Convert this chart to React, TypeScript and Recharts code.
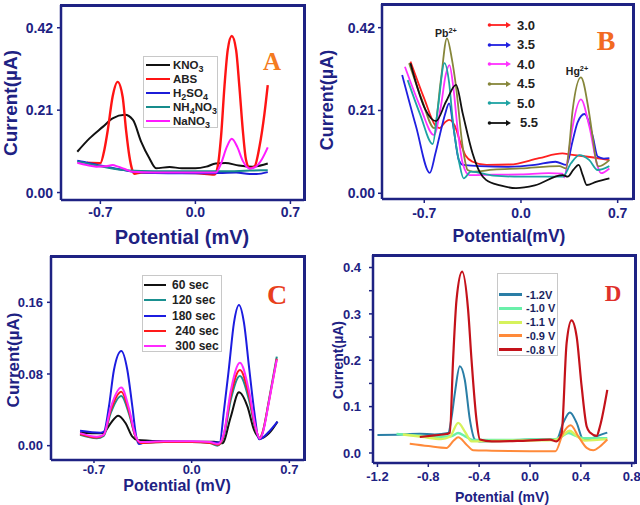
import React from 'react';
import { LineChart, Line, XAxis, YAxis } from 'recharts';

// ---- panel A : supporting electrolyte ----
const aKNO3 = [[-0.87, 0.104], [-0.78, 0.138], [-0.68, 0.168], [-0.61, 0.189], [-0.52, 0.198], [-0.46, 0.185], [-0.40, 0.13], [-0.34, 0.088], [-0.29, 0.062], [-0.19, 0.065], [-0.10, 0.062], [0.0, 0.062], [0.08, 0.066], [0.15, 0.074], [0.22, 0.075], [0.32, 0.069], [0.42, 0.066], [0.533, 0.074]];
const aABS = [[-0.80, 0.076], [-0.70, 0.075], [-0.67, 0.11], [-0.645, 0.16], [-0.61, 0.244], [-0.573, 0.282], [-0.536, 0.244], [-0.511, 0.16], [-0.486, 0.092], [-0.467, 0.06], [-0.45, 0.048], [-0.40, 0.051], [-0.2, 0.051], [0.0, 0.050], [0.14, 0.046], [0.164, 0.066], [0.189, 0.143], [0.214, 0.27], [0.238, 0.363], [0.268, 0.399], [0.30, 0.363], [0.324, 0.27], [0.349, 0.16], [0.373, 0.083], [0.40, 0.062], [0.435, 0.066], [0.472, 0.117], [0.509, 0.202], [0.533, 0.274]];
const aH2SO4 = [[-0.87, 0.081], [-0.78, 0.075], [-0.70, 0.069], [-0.60, 0.062], [-0.46, 0.053], [-0.3, 0.050], [-0.1, 0.049], [0.1, 0.049], [0.2, 0.050], [0.3, 0.051], [0.4, 0.047], [0.45, 0.047], [0.533, 0.052]];
const aNH4NO3 = [[-0.87, 0.079], [-0.78, 0.073], [-0.70, 0.067], [-0.55, 0.058], [-0.4, 0.055], [-0.2, 0.054], [0.0, 0.054], [0.2, 0.054], [0.4, 0.056], [0.533, 0.057]];
const aNaNO3 = [[-0.87, 0.076], [-0.80, 0.070], [-0.73, 0.066], [-0.66, 0.067], [-0.61, 0.070], [-0.57, 0.066], [-0.52, 0.060], [-0.46, 0.053], [-0.3, 0.051], [0.0, 0.051], [0.15, 0.051], [0.19, 0.075], [0.23, 0.115], [0.268, 0.137], [0.31, 0.115], [0.35, 0.08], [0.40, 0.061], [0.44, 0.065], [0.49, 0.085], [0.533, 0.115]];

// ---- panel B : pH ----
const b30 = [[-0.80, 0.334], [-0.70, 0.24], [-0.62, 0.172], [-0.59, 0.165], [-0.55, 0.18], [-0.52, 0.186], [-0.48, 0.172], [-0.44, 0.13], [-0.40, 0.095], [-0.35, 0.080], [-0.25, 0.072], [-0.08, 0.073], [0.13, 0.089], [0.30, 0.101], [0.36, 0.098], [0.50, 0.092], [0.64, 0.084]];
const b35 = [[-0.86, 0.300], [-0.76, 0.17], [-0.66, 0.052], [-0.62, 0.10], [-0.59, 0.144], [-0.55, 0.20], [-0.52, 0.228], [-0.49, 0.17], [-0.45, 0.084], [-0.42, 0.072], [-0.3, 0.069], [-0.1, 0.067], [0.10, 0.072], [0.25, 0.080], [0.33, 0.072], [0.37, 0.127], [0.41, 0.18], [0.46, 0.201], [0.52, 0.144], [0.555, 0.093], [0.60, 0.088], [0.64, 0.089]];
const b40 = [[-0.84, 0.321], [-0.73, 0.22], [-0.63, 0.148], [-0.58, 0.22], [-0.545, 0.30], [-0.518, 0.325], [-0.49, 0.27], [-0.458, 0.161], [-0.422, 0.076], [-0.374, 0.046], [-0.2, 0.047], [0.0, 0.048], [0.2, 0.051], [0.30, 0.050], [0.314, 0.040], [0.34, 0.09], [0.374, 0.169], [0.434, 0.238], [0.495, 0.169], [0.555, 0.068], [0.579, 0.051], [0.64, 0.063]];
const b45 = [[-0.81, 0.330], [-0.72, 0.24], [-0.627, 0.165], [-0.58, 0.287], [-0.536, 0.393], [-0.50, 0.34], [-0.47, 0.27], [-0.422, 0.118], [-0.386, 0.059], [-0.35, 0.055], [-0.2, 0.060], [0.0, 0.063], [0.278, 0.069], [0.326, 0.063], [0.35, 0.12], [0.374, 0.211], [0.434, 0.294], [0.49, 0.211], [0.52, 0.14], [0.543, 0.084], [0.562, 0.068], [0.64, 0.084]];
const b50 = [[-0.82, 0.287], [-0.73, 0.20], [-0.639, 0.125], [-0.60, 0.22], [-0.554, 0.330], [-0.52, 0.28], [-0.494, 0.186], [-0.446, 0.076], [-0.415, 0.038], [-0.362, 0.055], [-0.2, 0.045], [0.0, 0.042], [0.302, 0.042], [0.362, 0.076], [0.423, 0.097], [0.495, 0.084], [0.555, 0.059], [0.64, 0.069]];
const b55 = [[-0.80, 0.330], [-0.69, 0.211], [-0.615, 0.183], [-0.543, 0.232], [-0.47, 0.275], [-0.422, 0.203], [-0.35, 0.101], [-0.30, 0.055], [-0.253, 0.034], [-0.15, 0.02], [-0.036, 0.013], [0.10, 0.020], [0.302, 0.046], [0.338, 0.042], [0.38, 0.06], [0.418, 0.072], [0.447, 0.046], [0.476, 0.021], [0.543, 0.029], [0.64, 0.038]];

// ---- panel C : deposition time ----
const c60 = [[-0.80, 0.0145], [-0.653, 0.0138], [-0.629, 0.0145], [-0.581, 0.025], [-0.526, 0.0335], [-0.473, 0.025], [-0.425, 0.010], [-0.39, 0.0064], [-0.2, 0.005], [0.0, 0.0045], [0.16, 0.0045], [0.22, 0.0027], [0.28, 0.032], [0.339, 0.0596], [0.40, 0.0435], [0.447, 0.0175], [0.495, 0.0083], [0.554, 0.0138], [0.615, 0.0268]];
const c120 = [[-0.80, 0.012], [-0.68, 0.0083], [-0.63, 0.011], [-0.581, 0.036], [-0.504, 0.0555], [-0.45, 0.036], [-0.402, 0.010], [-0.366, 0.003], [-0.2, 0.004], [0.0, 0.004], [0.13, 0.003], [0.184, 0.000], [0.23, 0.01], [0.28, 0.051], [0.346, 0.0778], [0.411, 0.051], [0.459, 0.0175], [0.488, 0.0083], [0.507, 0.014], [0.554, 0.051], [0.61, 0.0993]];
const c180 = [[-0.80, 0.0167], [-0.653, 0.0145], [-0.629, 0.0156], [-0.593, 0.0435], [-0.557, 0.0845], [-0.504, 0.1057], [-0.461, 0.0845], [-0.425, 0.0435], [-0.397, 0.010], [-0.378, 0.0019], [-0.318, 0.0045], [0.0, 0.0045], [0.20, 0.0035], [0.232, 0.040], [0.268, 0.088], [0.303, 0.137], [0.339, 0.157], [0.375, 0.137], [0.411, 0.088], [0.447, 0.040], [0.483, 0.0071], [0.554, 0.0156], [0.615, 0.0268]];
const c240 = [[-0.80, 0.013], [-0.68, 0.009], [-0.63, 0.012], [-0.581, 0.039], [-0.504, 0.0603], [-0.45, 0.039], [-0.402, 0.010], [-0.366, 0.003], [-0.2, 0.004], [0.0, 0.004], [0.13, 0.003], [0.19, 0.001], [0.23, 0.012], [0.28, 0.056], [0.346, 0.0845], [0.411, 0.056], [0.459, 0.019], [0.488, 0.008], [0.507, 0.014], [0.554, 0.050], [0.61, 0.097]];
const c300 = [[-0.80, 0.014], [-0.68, 0.010], [-0.63, 0.012], [-0.581, 0.042], [-0.504, 0.065], [-0.45, 0.042], [-0.402, 0.011], [-0.366, 0.004], [-0.2, 0.005], [0.0, 0.005], [0.13, 0.004], [0.19, 0.002], [0.23, 0.013], [0.28, 0.061], [0.346, 0.0926], [0.411, 0.061], [0.459, 0.020], [0.488, 0.008], [0.507, 0.013], [0.554, 0.049], [0.61, 0.096]];

// ---- panel D : deposition potential ----
const d12 = [[-1.2, 0.039], [-1.0, 0.040], [-0.867, 0.0416], [-0.75, 0.040], [-0.644, 0.043], [-0.615, 0.08], [-0.591, 0.129], [-0.552, 0.187], [-0.513, 0.158], [-0.473, 0.072], [-0.434, 0.029], [-0.40, 0.025], [-0.2, 0.026], [0.0, 0.029], [0.209, 0.029], [0.261, 0.065], [0.314, 0.0875], [0.367, 0.065], [0.419, 0.029], [0.47, 0.03], [0.524, 0.036], [0.608, 0.044]];
const d10 = [[-1.05, 0.041], [-0.9, 0.038], [-0.7, 0.035], [-0.62, 0.036], [-0.565, 0.043], [-0.51, 0.036], [-0.45, 0.028], [-0.2, 0.028], [0.0, 0.029], [0.2, 0.030], [0.25, 0.036], [0.30, 0.043], [0.36, 0.037], [0.42, 0.032], [0.608, 0.032]];
const d11 = [[-1.0, 0.040], [-0.85, 0.035], [-0.7, 0.030], [-0.63, 0.035], [-0.565, 0.065], [-0.51, 0.045], [-0.46, 0.025], [-0.3, 0.026], [0.0, 0.027], [0.2, 0.028], [0.26, 0.038], [0.31, 0.048], [0.37, 0.036], [0.43, 0.027], [0.608, 0.030]];
const d09 = [[-0.946, 0.020], [-0.8, 0.015], [-0.657, 0.011], [-0.60, 0.027], [-0.565, 0.0337], [-0.499, 0.018], [-0.447, 0.0057], [-0.3, 0.005], [0.0, 0.004], [0.2, 0.0035], [0.261, 0.043], [0.32, 0.0596], [0.38, 0.036], [0.446, 0.011], [0.498, 0.0057], [0.55, 0.014], [0.608, 0.029]];
const d08 = [[-0.867, 0.0345], [-0.75, 0.038], [-0.657, 0.041], [-0.631, 0.043], [-0.605, 0.201], [-0.578, 0.33], [-0.534, 0.391], [-0.487, 0.309], [-0.46, 0.201], [-0.421, 0.072], [-0.394, 0.029], [-0.3, 0.025], [-0.1, 0.026], [0.157, 0.029], [0.209, 0.025], [0.249, 0.043], [0.288, 0.237], [0.327, 0.286], [0.367, 0.251], [0.406, 0.144], [0.446, 0.057], [0.472, 0.044], [0.524, 0.037], [0.55, 0.057], [0.608, 0.136]];

const tri3 = [-0.7, 0.0, 0.7];
const aYTicks = [0, 0.21, 0.42];
const cYTicks = [0, 0.08, 0.16];
const dXTicks = [-1.2, -0.8, -0.4, 0.0, 0.4, 0.8];
const dYTicks = [0, 0.05, 0.1, 0.15, 0.2, 0.25, 0.3, 0.35, 0.4];

const NAVY = '#1e2283';
const FONT = '"Liberation Sans", Arial, sans-serif';

interface Series { name: string; data: number[][]; color: string; width?: number }

function Panel(props: any) {
  const { w, h, margin, yWidth, xHeight, xDomain, yDomain, xTicks, yTicks, xFmt, yFmt, series, fs, xTick, yTick } = props;
  const axisLine = { stroke: NAVY, strokeWidth: 2.5 };
  const tickLine = { stroke: NAVY, strokeWidth: 1.5 };
  const tick = { fill: NAVY, fontSize: fs, fontWeight: 700 };
  // plot box in chart px, used only for the frame border
  const bx = margin.left + yWidth;
  const by = margin.top;
  const bw = w - margin.left - margin.right - yWidth;
  const bh = h - margin.top - xHeight;
  return (
    <div style={{ position: 'relative', width: w, height: h }}>
      <LineChart width={w} height={h} margin={margin}>
        <XAxis type="number" dataKey="x" domain={xDomain} allowDataOverflow ticks={xTicks}
          interval={0} tickFormatter={xFmt} axisLine={axisLine} tickLine={tickLine} tick={tick}
          tickSize={xTick[0]} tickMargin={xTick[1]} height={xHeight} />
        <YAxis type="number" domain={yDomain} allowDataOverflow ticks={yTicks} interval={0}
          tickFormatter={yFmt} axisLine={axisLine} tickLine={tickLine} tick={tick}
          tickSize={yTick[0]} tickMargin={yTick[1]} width={yWidth} />
        {series.map((s: Series) => (
          <Line key={s.name} data={s.data.map(([x, y]) => ({ x, y }))} dataKey="y"
            type="monotone" stroke={s.color} strokeWidth={s.width ?? 2} dot={false} activeDot={false}
            isAnimationActive={false} />
        ))}
      </LineChart>
      <div style={{ position: 'absolute', left: bx - 1, top: by - 1, width: bw + 2, height: 3, background: NAVY }} />
      <div style={{ position: 'absolute', left: bx + bw - 1, top: by - 1, width: 3, height: bh + 2, background: NAVY }} />
    </div>
  );
}

function chem(t: string) {
  return t.split(/(\d+)/).map((p, i) =>
    /\d/.test(p) ? <sub key={i} style={{ fontSize: '0.78em', verticalAlign: '-0.3em', lineHeight: 0 }}>{p}</sub> : <span key={i}>{p}</span>);
}

function Text({ x, y, size, rot, color = NAVY, serif, children }: any) {
  return (
    <div style={{
      position: 'absolute', left: x, top: y, whiteSpace: 'nowrap', lineHeight: 1,
      transform: `translate(-50%,-50%)${rot ? ' rotate(-90deg)' : ''}`,
      fontSize: size, fontWeight: 700, color, fontFamily: serif ? '"Liberation Serif", "Times New Roman", serif' : FONT,
    }}>{children}</div>
  );
}

const seriesA: Series[] = [
  { name: 'KNO3', data: aKNO3, color: '#111111' },
  { name: 'ABS', data: aABS, color: '#ff1414', width: 2.4 },
  { name: 'H2SO4', data: aH2SO4, color: '#1c1cd8' },
  { name: 'NH4NO3', data: aNH4NO3, color: '#178c8c' },
  { name: 'NaNO3', data: aNaNO3, color: '#ff1aff' },
];
const seriesB: Series[] = [
  { name: '3.0', data: b30, color: '#ff2020', width: 1.8 },
  { name: '3.5', data: b35, color: '#2020e0', width: 1.8 },
  { name: '4.0', data: b40, color: '#ff30ff', width: 1.8 },
  { name: '4.5', data: b45, color: '#86863a', width: 1.8 },
  { name: '5.0', data: b50, color: '#1ea3a3', width: 1.8 },
  { name: '5.5', data: b55, color: '#111111', width: 1.8 },
];
const seriesC: Series[] = [
  { name: '60 sec', data: c60, color: '#111111' },
  { name: '120 sec', data: c120, color: '#1a9090' },
  { name: '180 sec', data: c180, color: '#1c1ce0' },
  { name: ' 240 sec', data: c240, color: '#ff1a1a' },
  { name: ' 300 sec', data: c300, color: '#ff2aff' },
];
const seriesD: Series[] = [
  { name: '-1.2V', data: d12, color: '#2a7ea6' },
  { name: '-1.0 V', data: d10, color: '#6af0aa', width: 2.4 },
  { name: '-1.1 V', data: d11, color: '#d6f25c', width: 2.4 },
  { name: '-0.9 V', data: d09, color: '#ff8a3a' },
  { name: '-0.8 V', data: d08, color: '#c4121a', width: 2.2 },
];

const f1 = (v: number) => v.toFixed(1);
const f2 = (v: number) => v.toFixed(2);

export default function App() {
  return (
    <div style={{ position: 'absolute', left: 0, top: 0, width: 640, height: 505, background: '#fff', fontFamily: FONT, overflow: 'hidden' }}>
      {/* A */}
      <div style={{ position: 'absolute', left: 0, top: 0 }}>
        <Panel w={320} h={250} margin={{ top: 5, right: 16, left: 0, bottom: 0 }} yWidth={61} xHeight={50}
          xDomain={[-0.99, 0.80]} yDomain={[-0.019, 0.478]} xTicks={tri3} yTicks={aYTicks} xFmt={f1} yFmt={f2}
          series={seriesA} fs={14} xTick={[4, 3]} yTick={[4, 4]} />
      </div>
      {/* B */}
      <div style={{ position: 'absolute', left: 320, top: 0 }}>
        <Panel w={320} h={250} margin={{ top: 4, right: 7, left: 0, bottom: 0 }} yWidth={62} xHeight={51}
          xDomain={[-1.006, 0.811]} yDomain={[-0.0145, 0.48]} xTicks={tri3} yTicks={aYTicks} xFmt={f1} yFmt={f2}
          series={seriesB} fs={14} xTick={[4, 5]} yTick={[4, 3]} />
      </div>
      {/* C */}
      <div style={{ position: 'absolute', left: 0, top: 250 }}>
        <Panel w={320} h={255} margin={{ top: 6, right: 16, left: 0, bottom: 0 }} yWidth={51} xHeight={45}
          xDomain={[-1.008, 0.805]} yDomain={[-0.016, 0.2117]} xTicks={tri3} yTicks={cYTicks} xFmt={f1} yFmt={f2}
          series={seriesC} fs={13} xTick={[3, 2]} yTick={[4, 4]} />
      </div>
      {/* D */}
      <div style={{ position: 'absolute', left: 320, top: 250 }}>
        <Panel w={320} h={255} margin={{ top: 5, right: 5, left: 0, bottom: 0 }} yWidth={53} xHeight={42}
          xDomain={[-1.235, 0.826]} yDomain={[-0.0216, 0.427]} xTicks={dXTicks} yTicks={dYTicks} xFmt={f1}
          yFmt={(v: number) => (Math.round(v * 100) % 10 === 0 ? v.toFixed(1) : '')}
          series={seriesD} fs={13} xTick={[4, 5]} yTick={[4, 8]} />
      </div>

      {/* axis titles */}
      <Text x={10} y={103} size={19} rot>Current(µA)</Text>
      <Text x={182} y={237} size={20}>Potential (mV)</Text>
      <Text x={327} y={100} size={18} rot>Current(µA)</Text>
      <Text x={509} y={237} size={17.5}>Potential(mV)</Text>
      <Text x={13} y={360} size={17} rot>Current(µA)</Text>
      <Text x={177} y={486} size={16}>Potential (mV)</Text>
      <Text x={338} y={360} size={14} rot>Current(µA)</Text>
      <Text x={502} y={497} size={14}>Potential (mV)</Text>

      {/* panel letters */}
      <Text x={272} y={61} size={25} serif color="#f47b20">A</Text>
      <Text x={606} y={41} size={28} serif color="#f26a21">B</Text>
      <Text x={277} y={295} size={28} serif color="#e8401c">C</Text>
      <Text x={613} y={293} size={23} serif color="#e0302a">D</Text>

      {/* peak labels */}
      <Text x={446} y={33} size={10.5} color="#222">Pb<sup style={{ fontSize: '0.7em', verticalAlign: '0.5em', lineHeight: 0 }}>2+</sup></Text>
      <Text x={577} y={71} size={10.5} color="#222">Hg<sup style={{ fontSize: '0.7em', verticalAlign: '0.5em', lineHeight: 0 }}>2+</sup></Text>

      {/* legend A */}
      <div style={{ position: 'absolute', left: 143, top: 56, width: 75, height: 72, border: '1px solid #c8c8c8', boxSizing: 'border-box', background: '#fff' }}>
        {seriesA.map((s, i) => (
          <div key={s.name} style={{ position: 'absolute', left: 2, top: 1 + i * 14, height: 14, display: 'flex', alignItems: 'center' }}>
            <div style={{ width: 24, height: 2, background: s.color, marginRight: 3 }} />
            <span style={{ fontSize: 11.5, fontWeight: 700, color: '#222', whiteSpace: 'nowrap' }}>{chem(s.name)}</span>
          </div>
        ))}
      </div>

      {/* legend B */}
      {seriesB.map((s, i) => (
        <div key={s.name} style={{ position: 'absolute', left: 487, top: 15 + i * 19.5, height: 20, display: 'flex', alignItems: 'center' }}>
          <svg width={25} height={8} style={{ marginRight: 5 }}>
            <line x1={2} y1={4} x2={21} y2={4} stroke={s.color} strokeWidth={1.8} />
            <circle cx={2.5} cy={4} r={1.8} fill={s.color} />
            <path d="M19,1 L24,4 L19,7 Z" fill={s.color} />
          </svg>
          <span style={{ fontSize: 13, fontWeight: 700, color: '#222', marginLeft: i === 5 ? 3 : 0 }}>{s.name}</span>
        </div>
      ))}

      {/* legend C */}
      <div style={{ position: 'absolute', left: 142, top: 275, width: 80, height: 77, border: '1px solid #c8c8c8', boxSizing: 'border-box' }}>
        {seriesC.map((s, i) => (
          <div key={s.name} style={{ position: 'absolute', left: 1, top: 1.5 + i * 15.3, height: 15, display: 'flex', alignItems: 'center' }}>
            <div style={{ width: 22, height: 2.2, background: s.color, marginRight: 6 }} />
            <span style={{ fontSize: 12, fontWeight: 700, color: '#222', whiteSpace: 'pre' }}>{s.name}</span>
          </div>
        ))}
      </div>

      {/* legend D */}
      <div style={{ position: 'absolute', left: 497, top: 273, width: 61, height: 83, border: '1px solid #c8c8c8', boxSizing: 'border-box' }}>
        {seriesD.map((s, i) => (
          <div key={s.name} style={{ position: 'absolute', left: 1, top: 13.5 + i * 13.75, height: 14, display: 'flex', alignItems: 'center' }}>
            <div style={{ width: 23, height: 3, background: s.color, marginRight: 4 }} />
            <span style={{ fontSize: 11, fontWeight: 700, color: '#1a1f5e', whiteSpace: 'nowrap' }}>{s.name}</span>
          </div>
        ))}
      </div>
    </div>
  );
}
